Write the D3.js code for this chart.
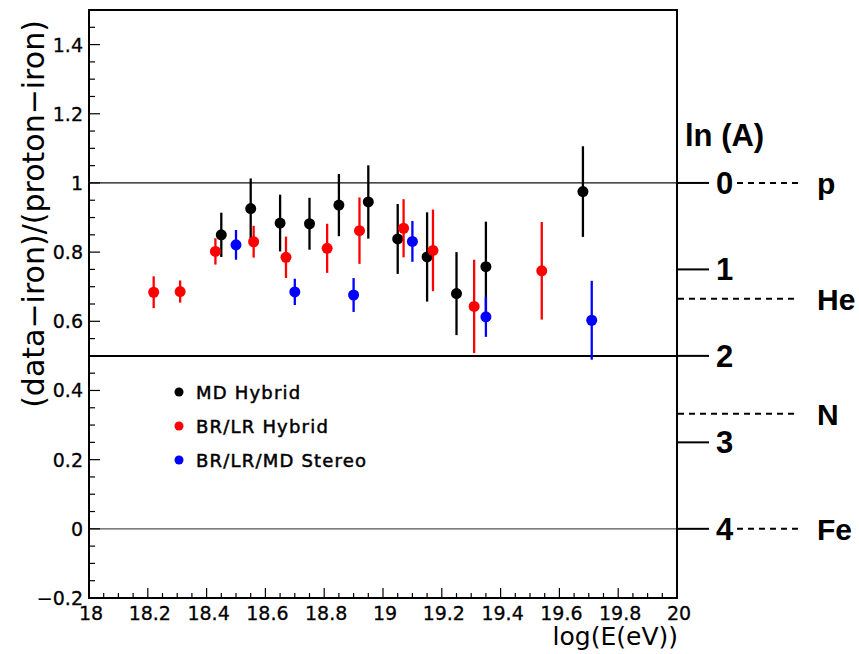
<!DOCTYPE html>
<html>
<head>
<meta charset="utf-8">
<script src="https://cdn.jsdelivr.net/npm/d3@7"></script>
<style>
html,body{margin:0;padding:0;background:#fff;}
svg{display:block;}
</style>
</head>
<body>
<svg id="chart" width="859" height="654"></svg>
<script>
// ---- data ----
const mdEnergy = [18.45,18.55,18.65,18.75,18.85,18.95,19.05,19.15,19.25,19.35,19.68];
const mdValue  = [0.850,0.926,0.884,0.882,0.936,0.945,0.838,0.786,0.680,0.758,0.975];
const mdError  = [0.064,0.087,0.082,0.075,0.090,0.106,0.101,0.129,0.120,0.130,0.131];

const brEnergy = [18.22,18.31,18.43,18.56,18.67,18.81,18.92,19.07,19.17,19.31,19.54];
const brValue  = [0.684,0.686,0.802,0.830,0.785,0.811,0.862,0.869,0.805,0.643,0.746];
const brError  = [0.046,0.032,0.038,0.046,0.060,0.071,0.096,0.084,0.118,0.135,0.141];

const stEnergy = [18.50,18.70,18.90,19.10,19.35,19.71];
const stValue  = [0.821,0.685,0.676,0.831,0.613,0.603];
const stError  = [0.043,0.038,0.049,0.059,0.058,0.114];

const seriesNames = ["MD Hybrid","BR/LR Hybrid","BR/LR/MD Stereo"];
const seriesColors = ["#000000","#ff0000","#0000ff"];

const xTicks = [18,18.2,18.4,18.6,18.8,19,19.2,19.4,19.6,19.8,20];
const xTickLabels = ["18","18.2","18.4","18.6","18.8","19","19.2","19.4","19.6","19.8","20"];
const yTicks = [-0.2,0,0.2,0.4,0.6,0.8,1,1.2,1.4];
const yTickLabels = ["\u22120.2","0","0.2","0.4","0.6","0.8","1","1.2","1.4"];
const refLines = [1,0.5,0];
const lnATicks = [0,1,2,3,4];
const elementNames = ["p","He","N","Fe"];
const elementLnA = [0,1.34,2.67,4];

// ---- layout ----
const svg = d3.select("#chart");
const L = 89, R = 677, T = 10, B = 598;
const x = d3.scaleLinear().domain([18,20]).range([L,R]);
const y = d3.scaleLinear().domain([-0.2,1.5]).range([B,T]);
const lnA = d3.scaleLinear().domain([0,4]).range([y(1),y(0)]);

const tickFont = "'DejaVu Sans', sans-serif";

// reference lines
svg.selectAll(".ref").data(refLines).enter().append("line")
  .attr("x1",L).attr("x2",R)
  .attr("y1",d=>y(d)).attr("y2",d=>y(d))
  .attr("stroke",d=>d===0.5?"#000":(d===0?"#555":"#111"))
  .attr("stroke-width",d=>d===0.5?2:1.2);

// minor/major ticks
const yMinor = d3.range(-0.2,1.5001,0.05).map(v=>+v.toFixed(2));
svg.selectAll(".ytk").data(yMinor).enter().append("line")
  .attr("x1",L).attr("x2",d=>L+ (Math.abs(Math.round(d*5)-d*5)<1e-6?11:6))
  .attr("y1",d=>y(d)).attr("y2",d=>y(d))
  .attr("stroke","#000").attr("stroke-width",1.2);
const xMinor = d3.range(18,20.0001,0.05).map(v=>+v.toFixed(2));
svg.selectAll(".xtk").data(xMinor).enter().append("line")
  .attr("y1",B).attr("y2",d=>B-(Math.abs(Math.round(d*5)-d*5)<1e-6?10:5))
  .attr("x1",d=>x(d)).attr("x2",d=>x(d))
  .attr("stroke","#000").attr("stroke-width",1.2);

// tick labels
svg.selectAll(".ylab").data(yTicks).enter().append("text")
  .attr("x",83).attr("y",(d,i)=>y(d)+7)
  .attr("text-anchor","end")
  .style("font-family",tickFont).style("font-size","19px")
  .attr("stroke","#000").attr("stroke-width",0.3)
  .text((d,i)=>yTickLabels[i]);
svg.selectAll(".xlab").data(xTicks).enter().append("text")
  .attr("x",d=>x(d)+2).attr("y",620)
  .attr("text-anchor","middle")
  .style("font-family",tickFont).style("font-size","19px")
  .attr("stroke","#000").attr("stroke-width",0.3)
  .text((d,i)=>xTickLabels[i]);

// axis titles
svg.append("text")
  .attr("transform",`translate(44,${214}) rotate(-90)`)
  .attr("text-anchor","middle")
  .style("font-family",tickFont).style("font-size","30px")
  .text("(data\u2212iron)/(proton\u2212iron)");
svg.append("text")
  .attr("x",678).attr("y",645)
  .attr("text-anchor","end")
  .style("font-family",tickFont).style("font-size","25px")
  .text("log(E(eV))");

// frame
svg.append("rect").attr("x",L).attr("y",T).attr("width",R-L).attr("height",B-T)
  .attr("fill","none").attr("stroke","#000").attr("stroke-width",2);

// ---- series ----
function drawSeries(E,V,Err,color){
  const g = svg.append("g");
  const idx = d3.range(E.length);
  g.selectAll("line").data(idx).enter().append("line")
    .attr("x1",i=>x(E[i])).attr("x2",i=>x(E[i]))
    .attr("y1",i=>y(V[i]-Err[i])).attr("y2",i=>y(V[i]+Err[i]))
    .attr("stroke",color).attr("stroke-width",2.3);
  g.selectAll("circle").data(idx).enter().append("circle")
    .attr("cx",i=>x(E[i])).attr("cy",i=>y(V[i])).attr("r",5.5)
    .attr("fill",color);
}
drawSeries(mdEnergy,mdValue,mdError,seriesColors[0]);
drawSeries(brEnergy,brValue,brError,seriesColors[1]);
drawSeries(stEnergy,stValue,stError,seriesColors[2]);

// legend
const leg = svg.append("g");
seriesNames.forEach((n,i)=>{
  leg.append("circle").attr("cx",179).attr("cy",392+i*34).attr("r",4.5).attr("fill",seriesColors[i]);
  leg.append("text").attr("x",196).attr("y",399+i*34)
    .style("font-family",tickFont).style("font-size","18px").style("letter-spacing","1.2px")
    .attr("stroke","#000").attr("stroke-width",0.5)
    .text(n);
});

// ---- ln(A) axis ----
const boldFont = "'Liberation Sans', Arial, sans-serif";
svg.append("text").attr("x",685).attr("y",146)
  .style("font-family",boldFont).style("font-weight","bold").style("font-size","31px")
  .text("ln (A)");
svg.selectAll(".lnt").data(lnATicks).enter().append("line")
  .attr("x1",R).attr("x2",709)
  .attr("y1",d=>lnA(d)).attr("y2",d=>lnA(d))
  .attr("stroke","#000").attr("stroke-width",2);
svg.selectAll(".lnl").data(lnATicks).enter().append("text")
  .attr("x",716).attr("y",d=>lnA(d)+11)
  .style("font-family",boldFont).style("font-weight","bold").style("font-size","31px")
  .text(d=>d);
svg.selectAll(".el").data(elementLnA).enter().append("line")
  .attr("x1",d=>(Math.abs(d-Math.round(d))<1e-6)?737:R+1).attr("x2",799)
  .attr("y1",d=>lnA(d)).attr("y2",d=>lnA(d))
  .attr("stroke","#000").attr("stroke-width",2).attr("stroke-dasharray","6,5");
svg.selectAll(".ell").data(elementLnA).enter().append("text")
  .attr("x",817).attr("y",d=>lnA(d)+11)
  .style("font-family",boldFont).style("font-weight","bold").style("font-size","30px")
  .text((d,i)=>elementNames[i]);
</script>
</body>
</html>
